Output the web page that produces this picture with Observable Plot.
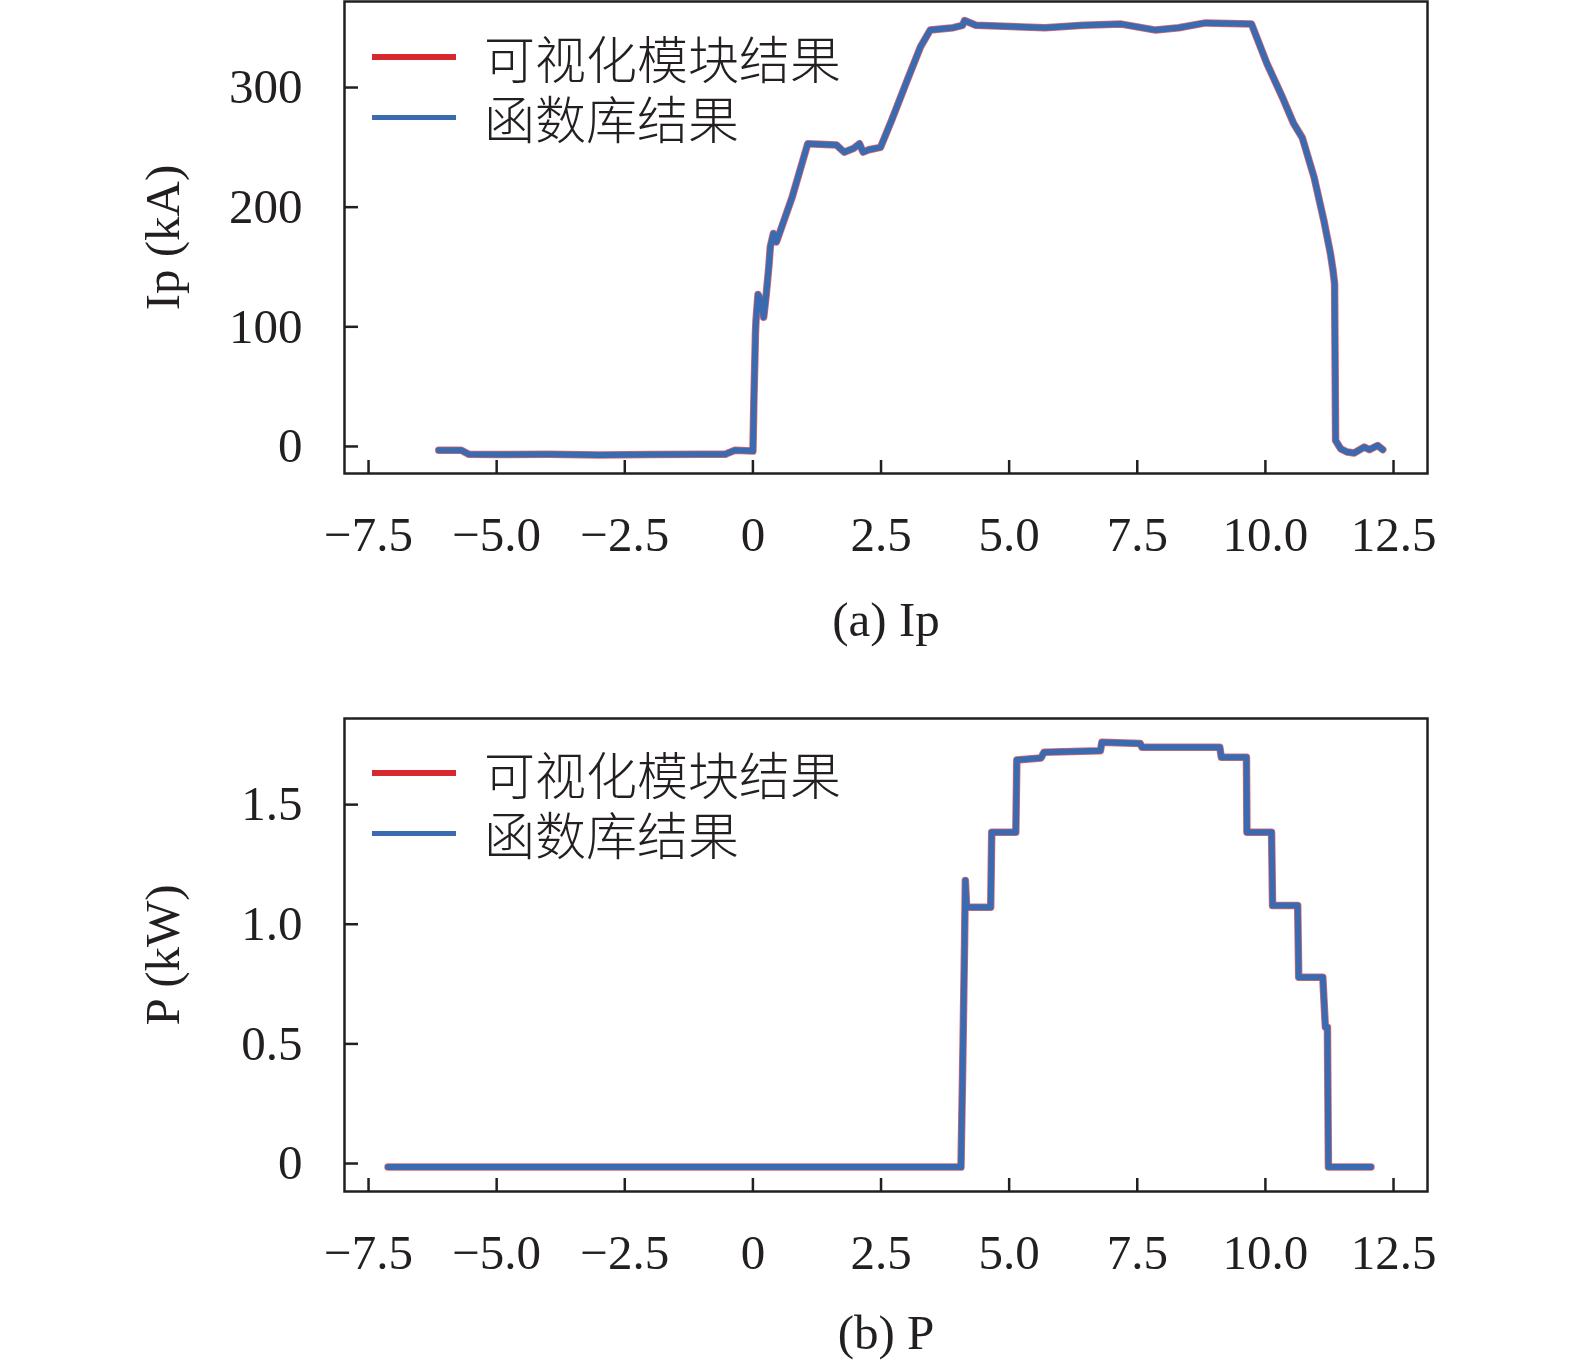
<!DOCTYPE html>
<html>
<head>
<meta charset="utf-8">
<script src="https://cdn.jsdelivr.net/npm/d3@7"></script>
<script src="https://cdn.jsdelivr.net/npm/@observablehq/plot@0.6"></script>
<style>
  html, body { margin: 0; padding: 0; background: #fff; }
  #root { width: 1575px; }
  .panel { position: relative; width: 1575px; }
  .panel svg { display: block; }
  .leg-line { position: absolute; }
  .leg-text { position: absolute; font-family: "Noto Sans CJK SC", sans-serif; font-weight: 300; font-size: 51px; line-height: 60px; color: #231f20; white-space: pre; }
</style>
</head>
<body>
<div id="root"></div>
<script>
// ---------- data ----------
const seriesNames = ["可视化模块结果", "函数库结果"];
const seriesColors = ["#d7282f", "#3a6bb0"];

// (a) Ip
const ipTime = [-6.13,-5.69,-5.54,-5.0,-4.0,-3.0,-2.0,-1.0,-0.54,-0.47,-0.35,0.0,0.02,0.05,0.06,0.10,0.16,0.21,0.26,0.31,0.34,0.40,0.46,0.77,1.07,1.63,1.78,1.96,2.08,2.15,2.26,2.49,2.71,3.01,3.27,3.46,3.91,4.09,4.13,4.35,5.70,6.45,7.19,7.86,8.31,8.83,9.73,10.03,10.33,10.55,10.72,10.95,11.14,11.27,11.32,11.35,11.37,11.47,11.60,11.73,11.93,12.03,12.19,12.29];
const ipVis = [-3.2,-3.2,-6.6,-6.8,-6.6,-7.2,-6.8,-6.6,-6.6,-5.2,-3.2,-3.8,40,95,105,127,122,108,127,150,167,178,171,209,253,252,246,249,253,246,248,250,273,306,334,348,350,352,356,352,350,352,353,348,350,354,353,320,292,270,258,225,189,161,147,136,5,-2,-4.7,-5.5,-0.5,-2.7,0.8,-2.7];
const ipLib = [-3.2,-3.2,-6.6,-6.8,-6.6,-7.2,-6.8,-6.6,-6.6,-5.2,-3.2,-3.8,40,95,105,127,122,108,127,150,167,178,171,209,253,252,246,249,253,246,248,250,273,306,334,348,350,352,356,352,350,352,353,348,350,354,353,320,292,270,258,225,189,161,147,136,5,-2,-4.7,-5.5,-0.5,-2.7,0.8,-2.7];

// (b) P
const pTime = [-7.12,-3.0,0.0,4.06,4.09,4.13,4.145,4.17,4.64,4.66,5.13,5.15,5.62,5.68,6.78,6.81,7.56,7.59,9.11,9.14,9.63,9.64,10.12,10.14,10.63,10.65,11.12,11.17,11.21,11.23,12.06];
const pVis = [-0.015,-0.015,-0.015,-0.015,0.36,0.92,1.183,1.071,1.071,1.385,1.385,1.687,1.695,1.719,1.725,1.761,1.755,1.74,1.74,1.698,1.698,1.385,1.385,1.078,1.078,0.779,0.779,0.57,0.57,-0.015,-0.015];
const pLib = [-0.015,-0.015,-0.015,-0.015,0.36,0.92,1.183,1.071,1.071,1.385,1.385,1.687,1.695,1.719,1.725,1.761,1.755,1.74,1.74,1.698,1.698,1.385,1.385,1.078,1.078,0.779,0.779,0.57,0.57,-0.015,-0.015];

// ticks
const xTicks = [-7.5,-5,-2.5,0,2.5,5,7.5,10,12.5];
const xTickLabels = ["−7.5","−5.0","−2.5","0","2.5","5.0","7.5","10.0","12.5"];
const ipTicks = [0,100,200,300];
const ipTickLabels = ["0","100","200","300"];
const pTicks = [0,0.5,1.0,1.5];
const pTickLabels = ["0","0.5","1.0","1.5"];

// ---------- drawing ----------
const W = 1575;
const ink = "#231f20";
const xDomain = [-7.969, 13.163];

function panel({height, marginTop, marginBottom, yDomain, yTicks, yTickLabels, yLabel, caption, captionOffset, time, vis, lib, legendTop}) {
  const marginLeft = 344, marginRight = 148;
  const frameW = W - marginLeft - marginRight;
  const frameH = height - marginTop - marginBottom;
  const rows = time.map((t, i) => ({t, vis: vis[i], lib: lib[i]}));
  const svg = Plot.plot({
    width: W, height, marginLeft, marginRight, marginTop, marginBottom,
    style: {fontFamily: "'Liberation Serif', 'Times New Roman', serif", fontSize: "49px", color: ink, background: "#fff", overflow: "visible"},
    x: {domain: xDomain},
    y: {domain: yDomain},
    marks: [
      Plot.line(rows, {x: "t", y: "vis", stroke: seriesColors[0], strokeWidth: 7.5, strokeOpacity: 0.7, strokeLinejoin: "round"}),
      Plot.line(rows, {x: "t", y: "lib", stroke: seriesColors[1], strokeWidth: 6, strokeLinejoin: "round"}),
      Plot.tickX(xTicks, {x: d => d, insetTop: frameH - 13, stroke: ink, strokeWidth: 2.5}),
      Plot.tickY(yTicks, {y: d => d, insetRight: frameW - 14, stroke: ink, strokeWidth: 2.5}),
      Plot.axisX({ticks: xTicks, tickSize: 0, tickPadding: 43, tickFormat: d => xTickLabels[xTicks.indexOf(d)], fill: ink,
        label: caption, labelAnchor: "center", labelOffset: captionOffset, labelArrow: "none"}),
      Plot.axisY({ticks: yTicks, tickSize: 0, tickPadding: 42, tickFormat: d => yTickLabels[yTicks.indexOf(d)], fill: ink,
        label: yLabel, labelAnchor: "center", labelOffset: 200, labelArrow: "none"}),
      Plot.frame({stroke: ink, strokeWidth: 2.5})
    ]
  });
  const div = document.createElement("div");
  div.className = "panel";
  div.appendChild(svg);
  // legend (inside frame, top-left): swatches + one two-line text block
  const rowsY = [legendTop, legendTop + 60];
  seriesNames.forEach((name, i) => {
    const ln = document.createElement("div");
    ln.className = "leg-line";
    const th = i === 0 ? 6 : 5;
    ln.style.cssText = `left:372px;width:84px;height:${th}px;top:${rowsY[i] - th / 2}px;background:${seriesColors[i]};`;
    div.appendChild(ln);
  });
  const tx = document.createElement("div");
  tx.className = "leg-text";
  tx.style.left = "484px";
  tx.style.top = (legendTop - 30) + "px";
  tx.textContent = seriesNames.join("\n");
  div.appendChild(tx);
  return div;
}

const root = document.getElementById("root");
root.appendChild(panel({
  height: 680, marginTop: 1, marginBottom: 680 - 473,
  yDomain: [-22.6, 371.9], yTicks: ipTicks, yTickLabels: ipTickLabels,
  yLabel: "Ip (kA)", caption: "(a) Ip", captionOffset: 162,
  time: ipTime, vis: ipVis, lib: ipLib, legendTop: 57
}));
root.appendChild(panel({
  height: 686, marginTop: 38, marginBottom: 1366 - 1191,
  yDomain: [-0.117, 1.860], yTicks: pTicks, yTickLabels: pTickLabels,
  yLabel: "P (kW)", caption: "(b) P", captionOffset: 157,
  time: pTime, vis: pVis, lib: pLib, legendTop: 773 - 680
}));
</script>
</body>
</html>
